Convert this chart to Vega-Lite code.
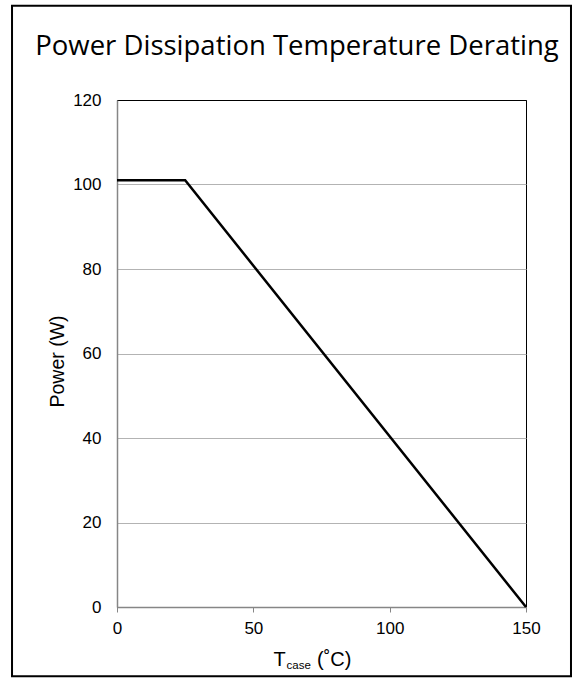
{
  "$schema": "https://vega.github.io/schema/vega-lite/v6.json",
  "autosize": {"type": "none"},
  "width": 409,
  "height": 507,
  "padding": {"left": 117, "top": 100, "right": 50, "bottom": 73},
  "background": "white",
  "title": {
    "text": "Power Dissipation Temperature Derating",
    "font": "Open Sans",
    "fontSize": 27.5,
    "fontWeight": "normal",
    "color": "#000000",
    "anchor": "middle",
    "frame": "group",
    "baseline": "alphabetic",
    "dx": -24.5,
    "offset": -77.5
  },
  "config": {
    "view": {"stroke": "#000000", "strokeWidth": 1},
    "axis": {
      "labelFont": "Liberation Sans",
      "labelFontSize": 17,
      "labelColor": "#000000",
      "labelFlush": false,
      "titleFont": "Liberation Sans",
      "titleFontSize": 19.5,
      "titleFontWeight": "normal",
      "titleColor": "#000000",
      "domainColor": "#868686",
      "domainWidth": 1.5,
      "gridColor": "#b3b3b3",
      "gridWidth": 1
    }
  },
  "layer": [
    {
      "data": {
        "values": [
          {"t": 0, "p": 101},
          {"t": 25, "p": 101},
          {"t": 150, "p": 0}
        ]
      },
      "mark": {"type": "line", "color": "#000000", "strokeWidth": 2.5},
      "encoding": {
        "x": {
          "field": "t",
          "type": "quantitative",
          "scale": {"domain": [0, 150], "nice": false},
          "axis": {"values": [0, 50, 100, 150], "grid": false, "ticks": true, "tickSize": 5, "tickColor": "#868686", "labelPadding": 8, "title": null}
        },
        "y": {
          "field": "p",
          "type": "quantitative",
          "scale": {"domain": [0, 120], "nice": false},
          "axis": {
            "values": [0, 20, 40, 60, 80, 100, 120],
            "grid": true,
            "gridColor": {"condition": {"test": "datum.value === 120", "value": "#000000"}, "value": "#b3b3b3"},
            "ticks": false,
            "labelPadding": 16,
            "title": "Power (W)",
            "titleBaseline": "middle",
            "titleX": -60,
            "titleY": 261
          }
        }
      }
    },
    {
      "data": {"values": [{"label": "T"}]},
      "mark": {"type": "text", "font": "Liberation Sans", "fontSize": 20, "fontWeight": "normal", "align": "left", "baseline": "alphabetic", "color": "#000000"},
      "encoding": {"x": {"datum": 57.4}, "y": {"datum": -14.0}, "text": {"field": "label"}}
    },
    {
      "data": {"values": [{"label": "case"}]},
      "mark": {"type": "text", "font": "Liberation Sans", "fontSize": 11.5, "fontWeight": "normal", "align": "left", "baseline": "alphabetic", "color": "#000000"},
      "encoding": {"x": {"datum": 62.2}, "y": {"datum": -14.6}, "text": {"field": "label"}}
    },
    {
      "data": {"values": [{"label": "(˚C)"}]},
      "mark": {"type": "text", "font": "Liberation Sans", "fontSize": 20, "fontWeight": "normal", "align": "left", "baseline": "alphabetic", "color": "#000000"},
      "encoding": {"x": {"datum": 73.35}, "y": {"datum": -14.0}, "text": {"field": "label"}}
    },
    {
      "data": {"values": [{"frame": "outer"}]},
      "mark": {"type": "rect", "fill": null, "stroke": "#000000", "strokeWidth": 2},
      "encoding": {"x": {"datum": -38.5}, "x2": {"datum": 166.5}, "y": {"datum": 142.3}, "y2": {"datum": -16.4}}
    }
  ]
}
